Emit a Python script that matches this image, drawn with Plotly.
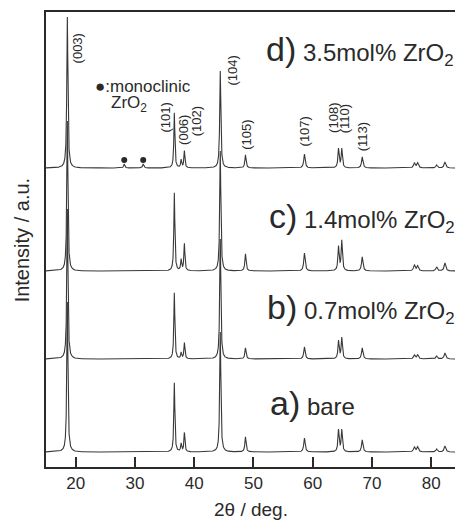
import numpy as np
import plotly.graph_objects as go

# ---- data ----
peak_2theta = [18.6, 28.2, 31.4, 36.65, 37.8, 38.35, 44.4, 48.65, 58.6, 64.35, 64.9, 68.35, 77.15, 77.7, 80.9, 82.3]
peak_hwhm   = [0.11, 0.12, 0.12, 0.10, 0.10, 0.10, 0.11, 0.12, 0.14, 0.12, 0.12, 0.14, 0.16, 0.16, 0.15, 0.16]

heights_d = [151, 4, 4, 55, 8, 17, 97, 13, 14, 19, 19, 11, 5, 5, 3, 6]
heights_c = [150, 0, 0, 78, 11, 27, 120, 17, 18, 24, 30, 14, 6, 5, 4, 8]
heights_b = [150, 0, 0, 66, 6, 16, 120, 11, 12, 18, 21, 11, 4, 4, 3, 6]
heights_a = [150, 0, 0, 69, 8, 19, 120, 15, 14, 22, 22, 12, 5, 5, 3, 6]

offsets = {"a": 15, "b": 108, "c": 196, "d": 299}

hkl_labels = ["(003)", "(101)", "(006)", "(102)", "(104)", "(105)", "(107)", "(108)", "(110)", "(113)"]
hkl_label_x = [20.3, 35.0, 38.1, 40.35, 46.3, 48.7, 58.6, 63.4, 65.4, 68.45]
hkl_label_y = [402, 332, 320, 329, 379, 315, 319, 332, 332, 314]

mono_peaks = [28.2, 31.4]

pattern_names = ["d", "c", "b", "a"]
pattern_labels = {
    "d": "3.5mol% ZrO<sub>2</sub>",
    "c": "1.4mol% ZrO<sub>2</sub>",
    "b": "0.7mol% ZrO<sub>2</sub>",
    "a": "bare",
}
label_pos = {"d": (51.7, 417), "c": (52.2, 250), "b": (52.0, 159), "a": (52.5, 64)}

x_ticks = [20, 30, 40, 50, 60, 70, 80]

FONT = "Liberation Sans, Arial, Helvetica, sans-serif"
INK = "#2a2a2a"

grid = np.arange(15.0, 84.0001, 0.01)


def profile(heights):
    y = np.zeros_like(grid)
    for c, w, h in zip(peak_2theta, peak_hwhm, heights):
        y += h / (1.0 + ((grid - c) / w) ** 2)
    return y


fig = go.Figure()
all_heights = {"d": heights_d, "c": heights_c, "b": heights_b, "a": heights_a}
for name in ["a", "b", "c", "d"]:
    fig.add_trace(go.Scatter(
        x=grid, y=profile(all_heights[name]) + offsets[name],
        mode="lines", line=dict(color="#383838", width=1.1),
        hoverinfo="skip", showlegend=False,
    ))

# monoclinic ZrO2 markers
fig.add_trace(go.Scatter(
    x=mono_peaks, y=[offsets["d"] + 8] * len(mono_peaks),
    mode="markers", marker=dict(color=INK, size=6),
    hoverinfo="skip", showlegend=False,
))

ann = []
for t, x, y in zip(hkl_labels, hkl_label_x, hkl_label_y):
    ann.append(dict(x=x, y=y, xref="x", yref="y", text=t, textangle=-90,
                    showarrow=False, xanchor="center", yanchor="bottom",
                    font=dict(family=FONT, size=13, color=INK)))

for name in pattern_names:
    x, y = label_pos[name]
    ann.append(dict(x=x, y=y, xref="x", yref="y",
                    text="<span style='font-size:34px'>" + name + ")</span> " + pattern_labels[name],
                    showarrow=False, xanchor="left", yanchor="middle",
                    font=dict(family=FONT, size=24, color=INK)))

ann.append(dict(x=22.9, y=381, xref="x", yref="y", text="●:monoclinic",
                showarrow=False, xanchor="left", yanchor="middle",
                font=dict(family=FONT, size=17, color=INK)))
ann.append(dict(x=25.6, y=363, xref="x", yref="y", text="ZrO<sub>2</sub>",
                showarrow=False, xanchor="left", yanchor="middle",
                font=dict(family=FONT, size=17, color=INK)))

ann.append(dict(x=0.5, y=-0.094, xref="paper", yref="paper", text="2θ / deg.",
                showarrow=False, xanchor="center", yanchor="middle",
                font=dict(family=FONT, size=19, color=INK)))
ann.append(dict(x=-0.059, y=0.5, xref="paper", yref="paper", text="Intensity / a.u.",
                textangle=-90, showarrow=False, xanchor="center", yanchor="middle",
                font=dict(family=FONT, size=20, color=INK)))

fig.update_layout(
    width=455, height=521,
    margin=dict(l=46, r=0, t=12, b=54),
    paper_bgcolor="white", plot_bgcolor="white",
    annotations=ann,
    xaxis=dict(range=[15, 84], tickvals=x_ticks, ticks="inside", ticklen=10,
               tickwidth=1.5, tickcolor=INK, showline=True, linewidth=2,
               linecolor=INK, mirror=True, showgrid=False, zeroline=False,
               tickfont=dict(family=FONT, size=17, color=INK)),
    yaxis=dict(range=[0, 455], showticklabels=False, ticks="", showline=True,
               linewidth=2, linecolor=INK, showgrid=False, zeroline=False),
)

fig.write_html("out.html", config={"displayModeBar": False},
               post_script="document.body.style.margin='0';document.body.style.overflow='hidden';")
